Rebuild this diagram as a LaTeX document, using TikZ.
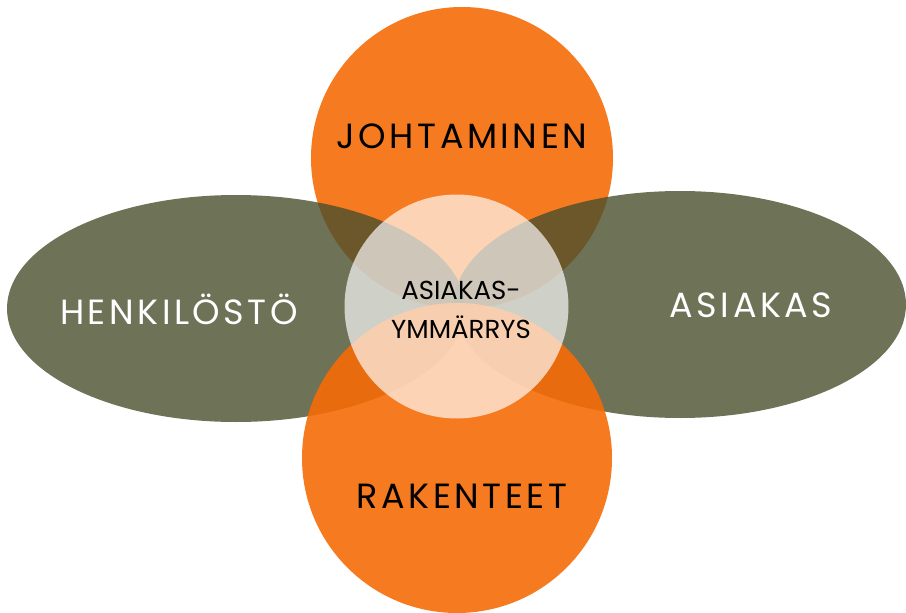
\documentclass[tikz,border=0pt]{standalone}
\usepackage{fontspec}
\newfontfamily\labfont[LetterSpace=10]{Poppins}
\newfontfamily\midfont{Poppins}
\definecolor{orng}{RGB}{246,108,7}
\definecolor{olv}{RGB}{74,79,46}
\tikzset{
  orangeblob/.style={fill=orng, fill opacity=0.9, draw=none},
  oliveblob/.style={fill=olv, fill opacity=0.8, draw=none},
  centerblob/.style={fill=white, fill opacity=0.67, draw=none},
  biglabel/.style={font=\labfont\fontsize{35}{40}\selectfont, inner sep=0pt, anchor=center},
  midlabel/.style={font=\midfont\fontsize{26}{39}\selectfont, inner sep=0pt, align=center, text=black},
}
\begin{document}
\begin{tikzpicture}[x=1pt,y=-1pt]
\useasboundingbox (0,0) rectangle (906,613);
\fill[white] (0,0) rectangle (906,613);
\fill[orangeblob] (462,158) circle (151);
\fill[oliveblob] (236,308.5) ellipse [x radius=229, y radius=113.5];
\fill[oliveblob] (680,304.5) ellipse [x radius=226, y radius=113.5];
\fill[orangeblob] (457,458) circle (155);
\fill[centerblob] (456.5,306.5) circle (112);
\node[biglabel, text=black] (joh) at (462,136) {JOHTAMINEN};
\node[biglabel, text=black] (rak) at (462,496) {RAKENTEET};
\node[biglabel, text=white] (hen) at (179,309) {HENKILÖSTÖ};
\node[biglabel, text=white] (asi) at (751,305) {ASIAKAS};
\node[midlabel] (ym) at (461,310) {ASIAKAS-\\YMMÄRRYS};
\end{tikzpicture}
\end{document}
